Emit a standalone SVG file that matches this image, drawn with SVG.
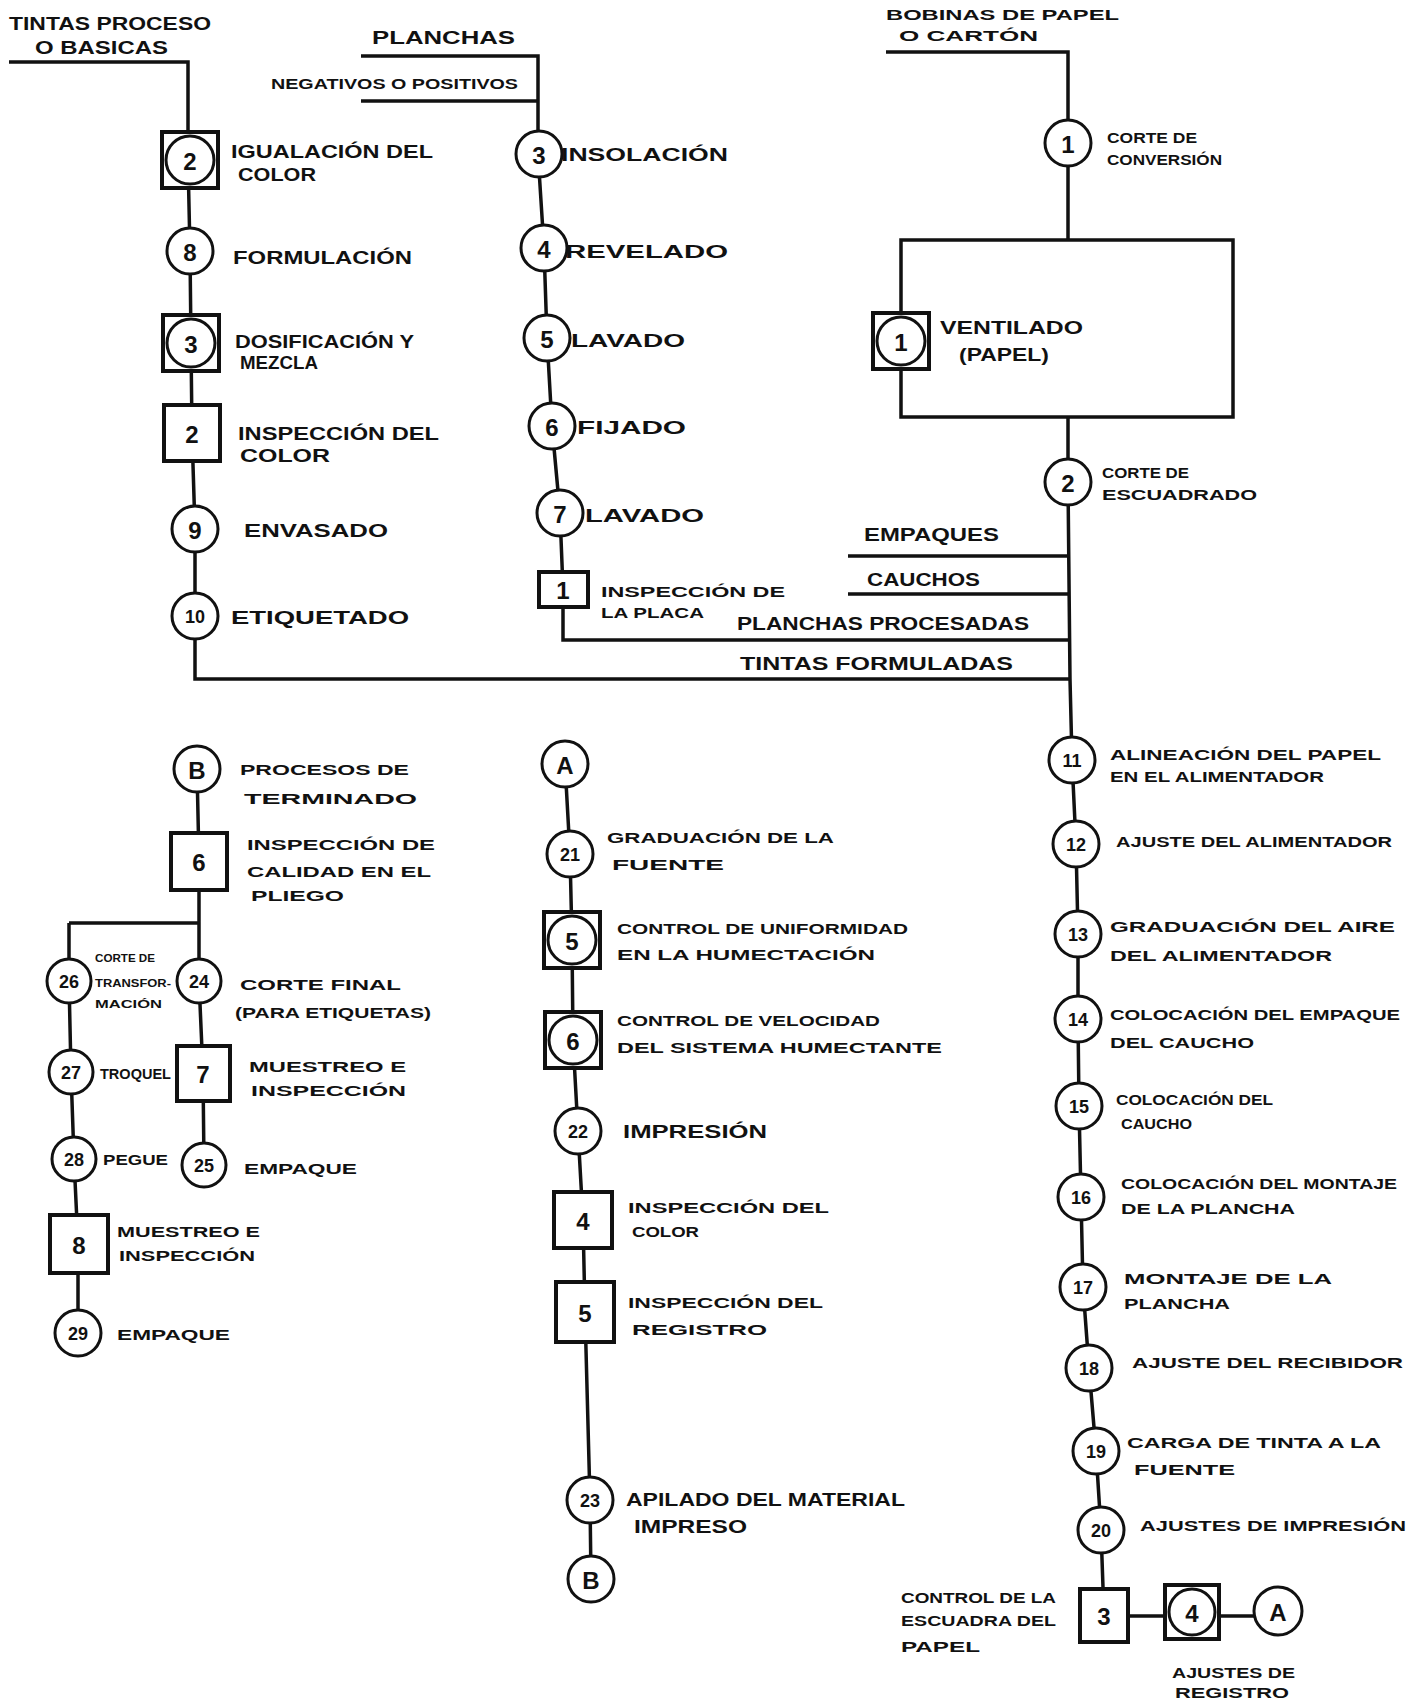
<svg xmlns="http://www.w3.org/2000/svg" width="1418" height="1699" viewBox="0 0 1418 1699">
<style>
.c{stroke:#111;stroke-width:3.5;fill:none}
.op{fill:#fff;stroke:#111;stroke-width:3}
.in{fill:#fff;stroke:#111;stroke-width:4}
.n{font-family:"Liberation Sans",Arial,sans-serif;font-weight:bold;font-size:24px;text-anchor:middle;dominant-baseline:central;fill:#111}
.n2{font-size:18px}
.t{font-family:"Liberation Sans",Arial,sans-serif;font-weight:bold;font-size:18px;fill:#111}
.s{font-size:14px}
</style>
<rect width="1418" height="1699" fill="#fff"/>
<g id="connectors">
<path class="c" d="M9,62 H188 V160 L190,251 L191,343 L192,433 L195,529 L195,616 L195,679 H1070"/>
<path class="c" d="M361,56 H538 V154 L544,248 L547,338 L552,426 L560,513 L563,589 V640 H1070"/>
<path class="c" d="M361,101 H538"/>
<path class="c" d="M848,556 H1070 M848,594 H1070"/>
<path class="c" d="M886,52 H1068 V240"/>
<rect class="c" x="901" y="240" width="332" height="177"/>
<path class="c" d="M1068,417 V482 L1070,679 L1072,760 L1076,844 L1078,934 L1078,1019 L1079,1106 L1081,1197 L1083,1287 L1089,1368 L1096,1451 L1101,1530 L1104,1616 H1278"/>
<path class="c" d="M565,764 L570,854 L572,940 L573,1040 L578,1131 L583,1220 L585,1312 L590,1500 L591,1579"/>
<path class="c" d="M197,769 L199,861 V923 M69,923 H199 M69,923 V981 L71,1072 L74,1159 L78,1244 L78,1333 M199,923 V981 L203,1073 L204,1165"/>
</g>
<g id="inputs">
<text class="t" x="9" y="30" textLength="202" lengthAdjust="spacingAndGlyphs">TINTAS PROCESO</text>
<text class="t" x="35" y="54" textLength="133" lengthAdjust="spacingAndGlyphs">O BASICAS</text>
<text class="t" x="372" y="44" textLength="143" lengthAdjust="spacingAndGlyphs">PLANCHAS</text>
<text class="t s" x="271" y="89" textLength="247" lengthAdjust="spacingAndGlyphs">NEGATIVOS O POSITIVOS</text>
<text class="t s" x="886" y="20" textLength="233" lengthAdjust="spacingAndGlyphs">BOBINAS DE PAPEL</text>
<text class="t s" x="899" y="41" textLength="139" lengthAdjust="spacingAndGlyphs">O CARTÓN</text>
<text class="t" x="864" y="541" textLength="135" lengthAdjust="spacingAndGlyphs">EMPAQUES</text>
<text class="t" x="867" y="586" textLength="113" lengthAdjust="spacingAndGlyphs">CAUCHOS</text>
<text class="t" x="737" y="630" textLength="292" lengthAdjust="spacingAndGlyphs">PLANCHAS PROCESADAS</text>
<text class="t" x="740" y="670" textLength="273" lengthAdjust="spacingAndGlyphs">TINTAS FORMULADAS</text>
</g>
<g id="t-op2"><rect class="in" x="162" y="132" width="56" height="56"/><circle class="op" cx="190" cy="160" r="24"/><text class="n" x="190" y="161">2</text>
<text class="t" x="231" y="158" textLength="202" lengthAdjust="spacingAndGlyphs">IGUALACIÓN DEL</text><text class="t" x="238" y="181" textLength="78" lengthAdjust="spacingAndGlyphs">COLOR</text></g>
<g id="t-op8"><circle class="op" cx="190" cy="251" r="23"/><text class="n" x="190" y="252">8</text>
<text class="t" x="233" y="264" textLength="179" lengthAdjust="spacingAndGlyphs">FORMULACIÓN</text></g>
<g id="t-op3"><rect class="in" x="163" y="315" width="56" height="56"/><circle class="op" cx="191" cy="343" r="24"/><text class="n" x="191" y="344">3</text>
<text class="t" x="235" y="348" textLength="179" lengthAdjust="spacingAndGlyphs">DOSIFICACIÓN Y</text><text class="t" x="240" y="369" textLength="78" lengthAdjust="spacingAndGlyphs">MEZCLA</text></g>
<g id="t-in2"><rect class="in" x="164" y="405" width="56" height="56"/><text class="n" x="192" y="434">2</text>
<text class="t" x="238" y="440" textLength="201" lengthAdjust="spacingAndGlyphs">INSPECCIÓN DEL</text><text class="t" x="240" y="462" textLength="90" lengthAdjust="spacingAndGlyphs">COLOR</text></g>
<g id="t-op9"><circle class="op" cx="195" cy="529" r="23"/><text class="n" x="195" y="530">9</text>
<text class="t" x="244" y="537" textLength="144" lengthAdjust="spacingAndGlyphs">ENVASADO</text></g>
<g id="t-op10"><circle class="op" cx="195" cy="616" r="23"/><text class="n n2" x="195" y="617">10</text>
<text class="t" x="231" y="624" textLength="178" lengthAdjust="spacingAndGlyphs">ETIQUETADO</text></g>
<g id="p-op3"><circle class="op" cx="539" cy="154" r="23"/><text class="n" x="539" y="155">3</text>
<text class="t" x="561" y="161" textLength="167" lengthAdjust="spacingAndGlyphs">INSOLACIÓN</text></g>
<g id="p-op4"><circle class="op" cx="544" cy="248" r="23"/><text class="n" x="544" y="249">4</text>
<text class="t" x="565" y="258" textLength="163" lengthAdjust="spacingAndGlyphs">REVELADO</text></g>
<g id="p-op5"><circle class="op" cx="547" cy="338" r="23"/><text class="n" x="547" y="339">5</text>
<text class="t" x="571" y="347" textLength="114" lengthAdjust="spacingAndGlyphs">LAVADO</text></g>
<g id="p-op6"><circle class="op" cx="552" cy="426" r="23"/><text class="n" x="552" y="427">6</text>
<text class="t" x="577" y="434" textLength="109" lengthAdjust="spacingAndGlyphs">FIJADO</text></g>
<g id="p-op7"><circle class="op" cx="560" cy="513" r="23"/><text class="n" x="560" y="514">7</text>
<text class="t" x="585" y="522" textLength="119" lengthAdjust="spacingAndGlyphs">LAVADO</text></g>
<g id="p-in1"><rect class="in" x="539" y="572" width="49" height="35"/><text class="n" x="563" y="590">1</text>
<text class="t s" x="601" y="597" textLength="184" lengthAdjust="spacingAndGlyphs">INSPECCIÓN DE</text><text class="t s" x="601" y="618" textLength="103" lengthAdjust="spacingAndGlyphs">LA PLACA</text></g>
<g id="b-op1"><circle class="op" cx="1068" cy="143" r="23"/><text class="n" x="1068" y="144">1</text>
<text class="t s" x="1107" y="143" textLength="90" lengthAdjust="spacingAndGlyphs">CORTE DE</text><text class="t s" x="1107" y="165" textLength="115" lengthAdjust="spacingAndGlyphs">CONVERSIÓN</text></g>
<g id="b-op1v"><rect class="in" x="873" y="313" width="56" height="56"/><circle class="op" cx="901" cy="341" r="24"/><text class="n" x="901" y="342">1</text>
<text class="t" x="940" y="334" textLength="143" lengthAdjust="spacingAndGlyphs">VENTILADO</text><text class="t" x="959" y="361" textLength="90" lengthAdjust="spacingAndGlyphs">(PAPEL)</text></g>
<g id="b-op2"><circle class="op" cx="1068" cy="482" r="23"/><text class="n" x="1068" y="483">2</text>
<text class="t s" x="1102" y="478" textLength="87" lengthAdjust="spacingAndGlyphs">CORTE DE</text><text class="t s" x="1102" y="500" textLength="155" lengthAdjust="spacingAndGlyphs">ESCUADRADO</text></g>
<g id="op11"><circle class="op" cx="1072" cy="760" r="23"/><text class="n n2" x="1072" y="761">11</text>
<text class="t s" x="1110" y="760" textLength="271" lengthAdjust="spacingAndGlyphs">ALINEACIÓN DEL PAPEL</text><text class="t s" x="1110" y="782" textLength="214" lengthAdjust="spacingAndGlyphs">EN EL ALIMENTADOR</text></g>
<g id="op12"><circle class="op" cx="1076" cy="844" r="23"/><text class="n n2" x="1076" y="845">12</text>
<text class="t s" x="1116" y="847" textLength="276" lengthAdjust="spacingAndGlyphs">AJUSTE DEL ALIMENTADOR</text></g>
<g id="op13"><circle class="op" cx="1078" cy="934" r="23"/><text class="n n2" x="1078" y="935">13</text>
<text class="t s" x="1110" y="932" textLength="285" lengthAdjust="spacingAndGlyphs">GRADUACIÓN DEL AIRE</text><text class="t s" x="1110" y="961" textLength="222" lengthAdjust="spacingAndGlyphs">DEL ALIMENTADOR</text></g>
<g id="op14"><circle class="op" cx="1078" cy="1019" r="23"/><text class="n n2" x="1078" y="1020">14</text>
<text class="t s" x="1110" y="1020" textLength="290" lengthAdjust="spacingAndGlyphs">COLOCACIÓN DEL EMPAQUE</text><text class="t s" x="1110" y="1048" textLength="144" lengthAdjust="spacingAndGlyphs">DEL CAUCHO</text></g>
<g id="op15"><circle class="op" cx="1079" cy="1106" r="23"/><text class="n n2" x="1079" y="1107">15</text>
<text class="t s" x="1116" y="1105" textLength="157" lengthAdjust="spacingAndGlyphs">COLOCACIÓN DEL</text><text class="t s" x="1121" y="1129" textLength="71" lengthAdjust="spacingAndGlyphs">CAUCHO</text></g>
<g id="op16"><circle class="op" cx="1081" cy="1197" r="23"/><text class="n n2" x="1081" y="1198">16</text>
<text class="t s" x="1121" y="1189" textLength="276" lengthAdjust="spacingAndGlyphs">COLOCACIÓN DEL MONTAJE</text><text class="t s" x="1121" y="1214" textLength="174" lengthAdjust="spacingAndGlyphs">DE LA PLANCHA</text></g>
<g id="op17"><circle class="op" cx="1083" cy="1287" r="23"/><text class="n n2" x="1083" y="1288">17</text>
<text class="t s" x="1124" y="1284" textLength="208" lengthAdjust="spacingAndGlyphs">MONTAJE DE LA</text><text class="t s" x="1124" y="1309" textLength="106" lengthAdjust="spacingAndGlyphs">PLANCHA</text></g>
<g id="op18"><circle class="op" cx="1089" cy="1368" r="23"/><text class="n n2" x="1089" y="1369">18</text>
<text class="t s" x="1132" y="1368" textLength="271" lengthAdjust="spacingAndGlyphs">AJUSTE DEL RECIBIDOR</text></g>
<g id="op19"><circle class="op" cx="1096" cy="1451" r="23"/><text class="n n2" x="1096" y="1452">19</text>
<text class="t s" x="1127" y="1448" textLength="254" lengthAdjust="spacingAndGlyphs">CARGA DE TINTA A LA</text><text class="t s" x="1134" y="1475" textLength="101" lengthAdjust="spacingAndGlyphs">FUENTE</text></g>
<g id="op20"><circle class="op" cx="1101" cy="1530" r="23"/><text class="n n2" x="1101" y="1531">20</text>
<text class="t s" x="1140" y="1531" textLength="266" lengthAdjust="spacingAndGlyphs">AJUSTES DE IMPRESIÓN</text></g>
<g id="in3"><rect class="in" x="1080" y="1589" width="48" height="53"/><text class="n" x="1104" y="1616">3</text>
<text class="t s" x="901" y="1603" textLength="155" lengthAdjust="spacingAndGlyphs">CONTROL DE LA</text><text class="t s" x="901" y="1626" textLength="155" lengthAdjust="spacingAndGlyphs">ESCUADRA DEL</text><text class="t s" x="901" y="1652" textLength="79" lengthAdjust="spacingAndGlyphs">PAPEL</text></g>
<g id="op4c"><rect class="in" x="1165" y="1585" width="54" height="54"/><circle class="op" cx="1192" cy="1612" r="23"/><text class="n" x="1192" y="1613">4</text>
<text class="t s" x="1172" y="1678" textLength="123" lengthAdjust="spacingAndGlyphs">AJUSTES DE</text><text class="t s" x="1175" y="1698" textLength="114" lengthAdjust="spacingAndGlyphs">REGISTRO</text></g>
<g id="conA-out"><circle class="op" cx="1278" cy="1611" r="24"/><text class="n" x="1278" y="1612">A</text></g>
<g id="conA-in"><circle class="op" cx="565" cy="764" r="23"/><text class="n" x="565" y="765">A</text></g>
<g id="op21"><circle class="op" cx="570" cy="854" r="23"/><text class="n n2" x="570" y="855">21</text>
<text class="t s" x="607" y="843" textLength="227" lengthAdjust="spacingAndGlyphs">GRADUACIÓN DE LA</text><text class="t s" x="612" y="870" textLength="112" lengthAdjust="spacingAndGlyphs">FUENTE</text></g>
<g id="op5c"><rect class="in" x="544" y="912" width="56" height="56"/><circle class="op" cx="572" cy="940" r="24"/><text class="n" x="572" y="941">5</text>
<text class="t s" x="617" y="934" textLength="291" lengthAdjust="spacingAndGlyphs">CONTROL DE UNIFORMIDAD</text><text class="t s" x="617" y="960" textLength="258" lengthAdjust="spacingAndGlyphs">EN LA HUMECTACIÓN</text></g>
<g id="op6c"><rect class="in" x="545" y="1012" width="56" height="56"/><circle class="op" cx="573" cy="1040" r="24"/><text class="n" x="573" y="1041">6</text>
<text class="t s" x="617" y="1026" textLength="263" lengthAdjust="spacingAndGlyphs">CONTROL DE VELOCIDAD</text><text class="t s" x="617" y="1053" textLength="325" lengthAdjust="spacingAndGlyphs">DEL SISTEMA HUMECTANTE</text></g>
<g id="op22"><circle class="op" cx="578" cy="1131" r="23"/><text class="n n2" x="578" y="1132">22</text>
<text class="t" x="623" y="1138" textLength="144" lengthAdjust="spacingAndGlyphs">IMPRESIÓN</text></g>
<g id="in4"><rect class="in" x="554" y="1192" width="58" height="56"/><text class="n" x="583" y="1221">4</text>
<text class="t s" x="628" y="1213" textLength="201" lengthAdjust="spacingAndGlyphs">INSPECCIÓN DEL</text><text class="t s" x="632" y="1237" textLength="67" lengthAdjust="spacingAndGlyphs">COLOR</text></g>
<g id="in5"><rect class="in" x="556" y="1282" width="58" height="60"/><text class="n" x="585" y="1313">5</text>
<text class="t s" x="628" y="1308" textLength="195" lengthAdjust="spacingAndGlyphs">INSPECCIÓN DEL</text><text class="t s" x="632" y="1335" textLength="135" lengthAdjust="spacingAndGlyphs">REGISTRO</text></g>
<g id="op23"><circle class="op" cx="590" cy="1500" r="23"/><text class="n n2" x="590" y="1501">23</text>
<text class="t" x="626" y="1506" textLength="279" lengthAdjust="spacingAndGlyphs">APILADO DEL MATERIAL</text><text class="t" x="634" y="1533" textLength="113" lengthAdjust="spacingAndGlyphs">IMPRESO</text></g>
<g id="conB-out"><circle class="op" cx="591" cy="1579" r="23"/><text class="n" x="591" y="1580">B</text></g>
<g id="conB-in"><circle class="op" cx="197" cy="769" r="23"/><text class="n" x="197" y="770">B</text>
<text class="t s" x="240" y="775" textLength="169" lengthAdjust="spacingAndGlyphs">PROCESOS DE</text><text class="t s" x="244" y="804" textLength="173" lengthAdjust="spacingAndGlyphs">TERMINADO</text></g>
<g id="in6"><rect class="in" x="171" y="833" width="56" height="57"/><text class="n" x="199" y="862">6</text>
<text class="t s" x="247" y="850" textLength="188" lengthAdjust="spacingAndGlyphs">INSPECCIÓN DE</text><text class="t s" x="247" y="877" textLength="184" lengthAdjust="spacingAndGlyphs">CALIDAD EN EL</text><text class="t s" x="251" y="901" textLength="93" lengthAdjust="spacingAndGlyphs">PLIEGO</text></g>
<g id="op26"><circle class="op" cx="69" cy="981" r="22"/><text class="n n2" x="69" y="982">26</text>
<text class="t" style="font-size:11px" x="95" y="962" textLength="60" lengthAdjust="spacingAndGlyphs">CORTE DE</text><text class="t" style="font-size:11px" x="95" y="987" textLength="76" lengthAdjust="spacingAndGlyphs">TRANSFOR-</text><text class="t" style="font-size:11px" x="95" y="1008" textLength="67" lengthAdjust="spacingAndGlyphs">MACIÓN</text></g>
<g id="op24"><circle class="op" cx="199" cy="981" r="22"/><text class="n n2" x="199" y="982">24</text>
<text class="t s" x="240" y="990" textLength="161" lengthAdjust="spacingAndGlyphs">CORTE FINAL</text><text class="t s" x="235" y="1018" textLength="196" lengthAdjust="spacingAndGlyphs">(PARA ETIQUETAS)</text></g>
<g id="op27"><circle class="op" cx="71" cy="1072" r="22"/><text class="n n2" x="71" y="1073">27</text>
<text class="t s" x="100" y="1079" textLength="71" lengthAdjust="spacingAndGlyphs">TROQUEL</text></g>
<g id="in7"><rect class="in" x="177" y="1046" width="53" height="55"/><text class="n" x="203" y="1074">7</text>
<text class="t s" x="249" y="1072" textLength="157" lengthAdjust="spacingAndGlyphs">MUESTREO E</text><text class="t s" x="251" y="1096" textLength="155" lengthAdjust="spacingAndGlyphs">INSPECCIÓN</text></g>
<g id="op28"><circle class="op" cx="74" cy="1159" r="22"/><text class="n n2" x="74" y="1160">28</text>
<text class="t s" x="103" y="1165" textLength="65" lengthAdjust="spacingAndGlyphs">PEGUE</text></g>
<g id="op25"><circle class="op" cx="204" cy="1165" r="22"/><text class="n n2" x="204" y="1166">25</text>
<text class="t s" x="244" y="1174" textLength="113" lengthAdjust="spacingAndGlyphs">EMPAQUE</text></g>
<g id="in8"><rect class="in" x="50" y="1215" width="58" height="58"/><text class="n" x="79" y="1245">8</text>
<text class="t s" x="117" y="1237" textLength="143" lengthAdjust="spacingAndGlyphs">MUESTREO E</text><text class="t s" x="119" y="1261" textLength="136" lengthAdjust="spacingAndGlyphs">INSPECCIÓN</text></g>
<g id="op29"><circle class="op" cx="78" cy="1333" r="23"/><text class="n n2" x="78" y="1334">29</text>
<text class="t s" x="117" y="1340" textLength="113" lengthAdjust="spacingAndGlyphs">EMPAQUE</text></g>
</svg>
